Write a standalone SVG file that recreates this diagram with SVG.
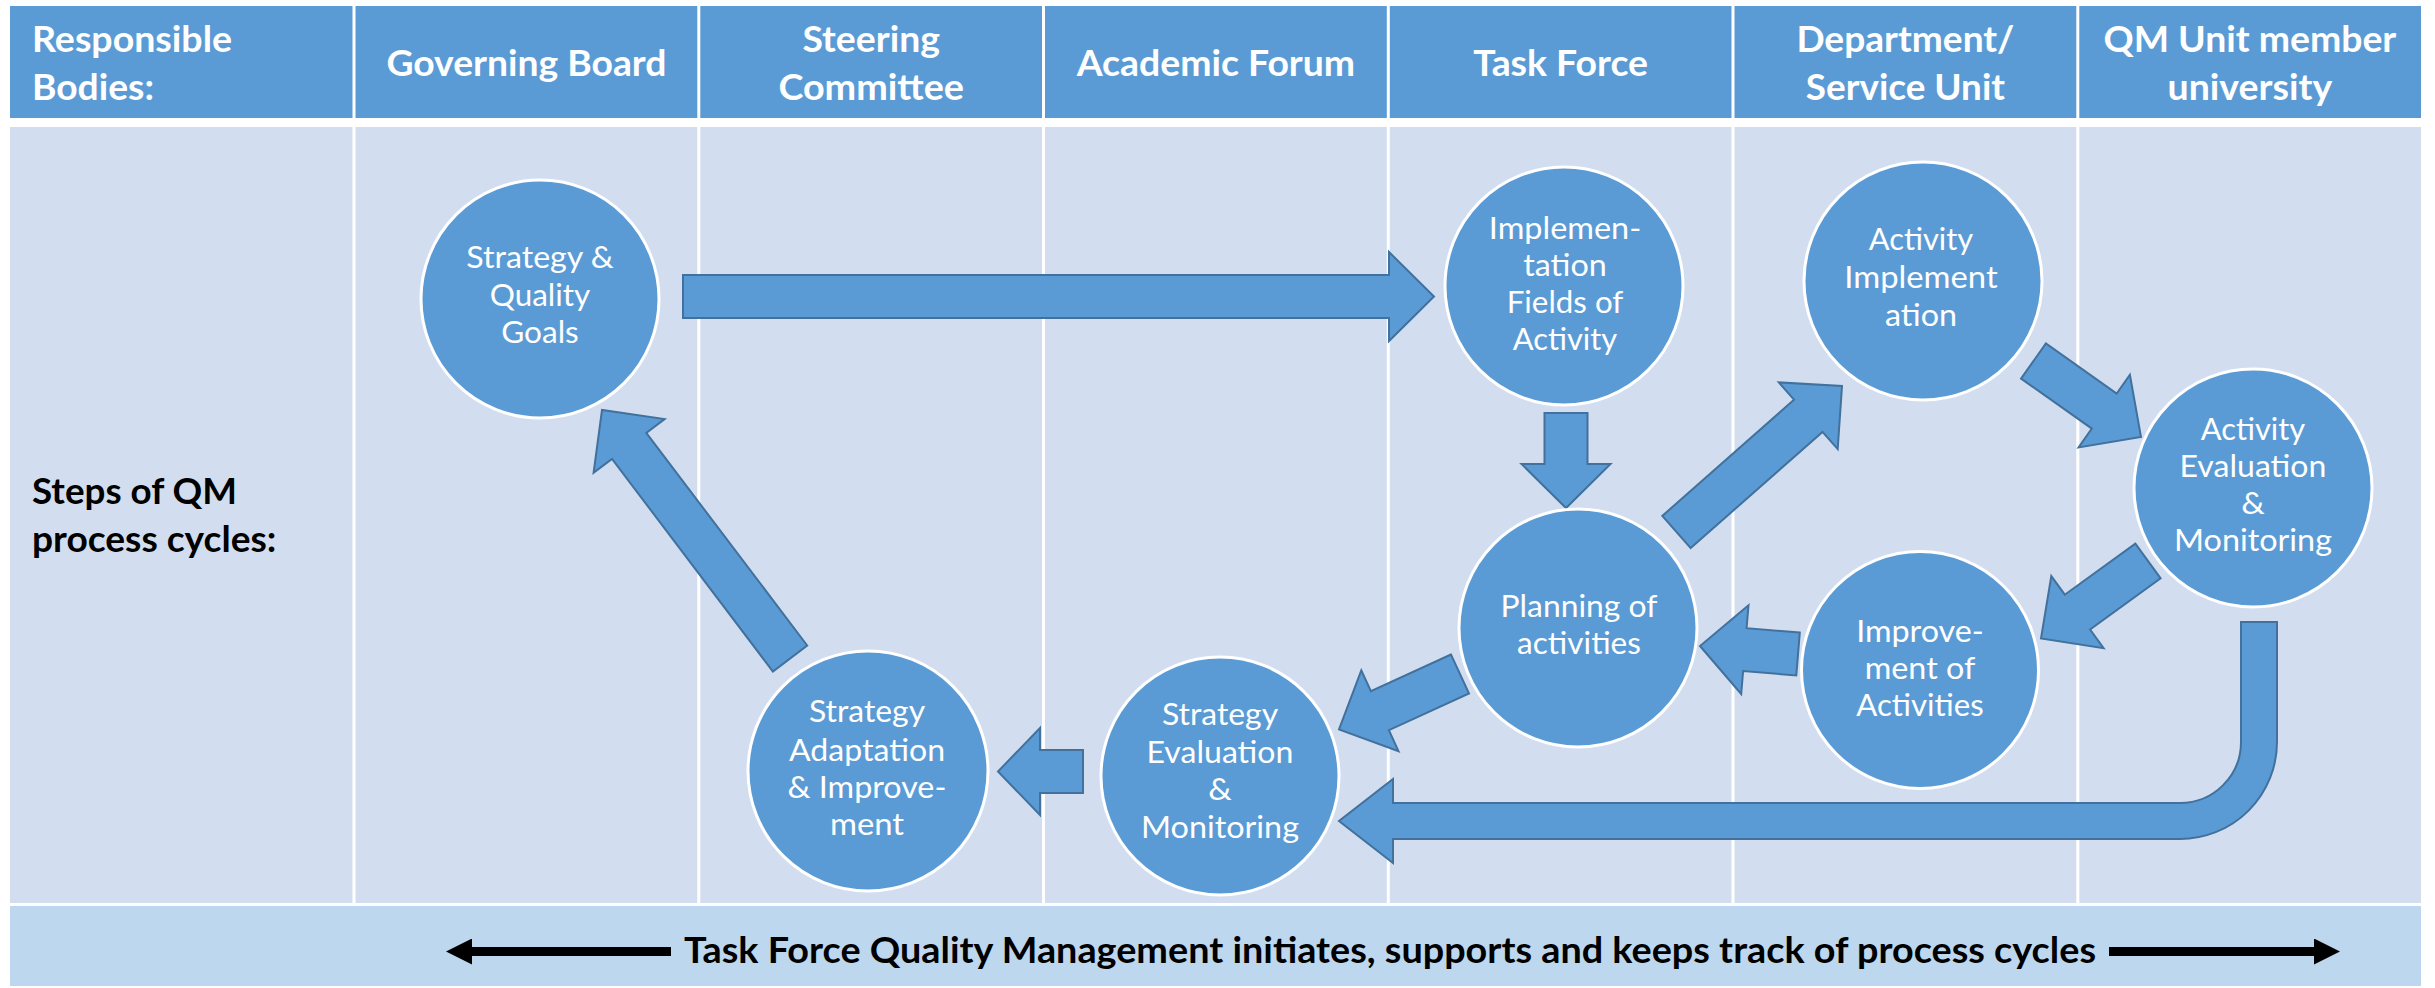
<svg xmlns="http://www.w3.org/2000/svg" width="2435" height="988" viewBox="0 0 2435 988">
<defs>
<style>
.hdr{fill:#5B9BD5}
.body{fill:#D2DEEF}
.foot{fill:#BDD7EE}
.sep{stroke:#FFFFFF;stroke-width:3}
.ht{font-family:Lato,"Liberation Sans",sans-serif;font-weight:bold;font-size:36px;fill:#FFFFFF}
.htm{text-anchor:middle}
.rl{font-family:Lato,"Liberation Sans",sans-serif;font-weight:bold;font-size:36px;fill:#000000}
.node{fill:#5B9BD5;stroke:#FFFFFF;stroke-width:3}
.nt{font-family:Lato,"Liberation Sans",sans-serif;font-size:31px;fill:#FFFFFF;text-anchor:middle}
.blk{fill:#5B9BD5;stroke:#41719C;stroke-width:2;stroke-linejoin:miter}
.ft{font-family:Lato,"Liberation Sans",sans-serif;font-weight:bold;font-size:36px;fill:#000000;text-anchor:middle}
.fa{stroke:#000000;stroke-width:9;fill:none}
</style>
<marker id="ah" viewBox="0 0 26 26" refX="0" refY="13" markerWidth="26" markerHeight="26" markerUnits="userSpaceOnUse" orient="auto">
<path d="M0,0 L26,13 L0,26 Z" fill="#000000"/>
</marker>
</defs>
<rect x="0" y="0" width="2435" height="988" fill="#FFFFFF"/>
<g id="table">
<rect class="hdr" x="10" y="6" width="2411" height="112"/>
<rect class="body" x="10" y="127" width="2411" height="776"/>
<rect class="foot" x="10" y="906" width="2411" height="80"/>
<g class="sep">
<line x1="354" y1="4" x2="354" y2="904"/>
<line x1="698.8" y1="4" x2="698.8" y2="904"/>
<line x1="1043.5" y1="4" x2="1043.5" y2="904"/>
<line x1="1388.3" y1="4" x2="1388.3" y2="904"/>
<line x1="1733" y1="4" x2="1733" y2="904"/>
<line x1="2077.8" y1="4" x2="2077.8" y2="904"/>
</g>
</g>
<g id="header-labels">
<g id="h-responsible">
<text class="ht" x="32" y="52" textLength="200" lengthAdjust="spacingAndGlyphs">Responsible</text>
<text class="ht" x="32" y="100" textLength="122" lengthAdjust="spacingAndGlyphs">Bodies:</text>
</g>
<g id="h-governing"><text class="ht htm" x="526.4" y="76" textLength="280" lengthAdjust="spacingAndGlyphs">Governing Board</text></g>
<g id="h-steering">
<text class="ht htm" x="871.2" y="52" textLength="137.5" lengthAdjust="spacingAndGlyphs">Steering</text>
<text class="ht htm" x="871.2" y="100" textLength="185.6" lengthAdjust="spacingAndGlyphs">Committee</text>
</g>
<g id="h-academic"><text class="ht htm" x="1215.9" y="76" textLength="278.5" lengthAdjust="spacingAndGlyphs">Academic Forum</text></g>
<g id="h-taskforce"><text class="ht htm" x="1560.7" y="76" textLength="174.7" lengthAdjust="spacingAndGlyphs">Task Force</text></g>
<g id="h-department">
<text class="ht htm" x="1905.4" y="52" textLength="218" lengthAdjust="spacingAndGlyphs">Department/</text>
<text class="ht htm" x="1905.4" y="100" textLength="199.2" lengthAdjust="spacingAndGlyphs">Service Unit</text>
</g>
<g id="h-qmunit">
<text class="ht htm" x="2249.9" y="52" textLength="292.8" lengthAdjust="spacingAndGlyphs">QM Unit member</text>
<text class="ht htm" x="2249.9" y="100" textLength="164.7" lengthAdjust="spacingAndGlyphs">university</text>
</g>
<g id="row-label">
<text class="rl" x="32" y="504" textLength="205" lengthAdjust="spacingAndGlyphs">Steps of QM</text>
<text class="rl" x="32" y="552" textLength="244.4" lengthAdjust="spacingAndGlyphs">process cycles:</text>
</g>
</g>
<g id="connectors">
<polygon id="c-goals-impl" class="blk" points="683,275 1389,275 1389,252 1434,296.5 1389,341 1389,318 683,318"/>
<polygon id="c-adapt-goals" class="blk" points="807.2,645.5 646.3,432.9 664.6,419.1 602,410 593.6,472.8 612,458.9 772.9,671.5"/>
<polygon id="c-impl-plan" class="blk" points="1544.5,413 1587.5,413 1587.5,464 1610.5,464 1566,508 1521.5,464 1544.5,464"/>
<polygon id="c-plan-actimpl" class="blk" points="1690.7,548.1 1822.5,431.9 1837.7,449.1 1842,386 1778.8,382.4 1794,399.7 1662.3,515.9"/>
<polygon id="c-actimpl-acteval" class="blk" points="2021.1,378.6 2091.8,428.6 2078.6,447.4 2141,437 2129.9,374.7 2116.7,393.5 2045.9,343.4"/>
<polygon id="c-acteval-improve" class="blk" points="2135.4,543.6 2064.8,594.7 2051.3,576.1 2041,638.5 2103.6,648.2 2090.1,629.5 2160.6,578.4"/>
<polygon id="c-improve-plan" class="blk" points="1799.8,632.6 1746.6,628.2 1748.5,605.3 1700,646 1741.2,694 1743.1,671.1 1796.3,675.4"/>
<polygon id="c-plan-streval" class="blk" points="1451,654.5 1370.9,691.2 1361.3,670.3 1339,729.5 1398.5,751.2 1388.9,730.2 1469,693.5"/>
<polygon id="c-streval-adapt" class="blk" points="1083,750 1040,750 1040,728 998,771.5 1040,815 1040,793 1083,793"/>
<path id="c-acteval-streval" class="blk" d="M2241,622 H2277 V742 A97,97 0 0 1 2180,839 H1393 V863 L1339,821 L1393,779 V803 H2180 A61,61 0 0 0 2241,742 Z"/>
</g>
<g id="node-goals">
<circle class="node" cx="540" cy="299" r="119"/>
<text class="nt" x="540" y="268" textLength="147.5" lengthAdjust="spacingAndGlyphs">Strategy &amp;</text>
<text class="nt" x="540" y="306" textLength="100.6" lengthAdjust="spacingAndGlyphs">Quality</text>
<text class="nt" x="540" y="343" textLength="77.6" lengthAdjust="spacingAndGlyphs">Goals</text>
</g>
<g id="node-implementation">
<circle class="node" cx="1564" cy="286" r="119"/>
<text class="nt" x="1565" y="239" textLength="152.4" lengthAdjust="spacingAndGlyphs">Implemen-</text>
<text class="nt" x="1565" y="276" textLength="83.6" lengthAdjust="spacingAndGlyphs">tation</text>
<text class="nt" x="1565" y="313" textLength="116.6" lengthAdjust="spacingAndGlyphs">Fields of</text>
<text class="nt" x="1565" y="350" textLength="104.4" lengthAdjust="spacingAndGlyphs">Activity</text>
</g>
<g id="node-activity-implementation">
<circle class="node" cx="1923" cy="281" r="119"/>
<text class="nt" x="1921" y="250" textLength="104.4" lengthAdjust="spacingAndGlyphs">Activity</text>
<text class="nt" x="1921" y="288" textLength="153.4" lengthAdjust="spacingAndGlyphs">Implement</text>
<text class="nt" x="1921" y="326" textLength="72.1" lengthAdjust="spacingAndGlyphs">ation</text>
</g>
<g id="node-activity-evaluation">
<circle class="node" cx="2253" cy="488" r="119"/>
<text class="nt" x="2253" y="440" textLength="104.4" lengthAdjust="spacingAndGlyphs">Activity</text>
<text class="nt" x="2253" y="477" textLength="146.8" lengthAdjust="spacingAndGlyphs">Evaluation</text>
<text class="nt" x="2253" y="514" textLength="23.5" lengthAdjust="spacingAndGlyphs">&amp;</text>
<text class="nt" x="2253" y="551" textLength="158" lengthAdjust="spacingAndGlyphs">Monitoring</text>
</g>
<g id="node-improvement">
<circle class="node" cx="1920" cy="670" r="118.5"/>
<text class="nt" x="1920" y="642" textLength="127.6" lengthAdjust="spacingAndGlyphs">Improve-</text>
<text class="nt" x="1920" y="679" textLength="110.6" lengthAdjust="spacingAndGlyphs">ment of</text>
<text class="nt" x="1920" y="716" textLength="127.3" lengthAdjust="spacingAndGlyphs">Activities</text>
</g>
<g id="node-planning">
<circle class="node" cx="1578" cy="628" r="119"/>
<text class="nt" x="1579" y="617" textLength="156.8" lengthAdjust="spacingAndGlyphs">Planning of</text>
<text class="nt" x="1579" y="654" textLength="123.8" lengthAdjust="spacingAndGlyphs">activities</text>
</g>
<g id="node-strategy-evaluation">
<circle class="node" cx="1220" cy="776" r="119"/>
<text class="nt" x="1220" y="725" textLength="116.2" lengthAdjust="spacingAndGlyphs">Strategy</text>
<text class="nt" x="1220" y="763" textLength="146.8" lengthAdjust="spacingAndGlyphs">Evaluation</text>
<text class="nt" x="1220" y="800" textLength="23.5" lengthAdjust="spacingAndGlyphs">&amp;</text>
<text class="nt" x="1220" y="838" textLength="158" lengthAdjust="spacingAndGlyphs">Monitoring</text>
</g>
<g id="node-strategy-adaptation">
<circle class="node" cx="868" cy="771" r="120"/>
<text class="nt" x="867" y="722" textLength="116.2" lengthAdjust="spacingAndGlyphs">Strategy</text>
<text class="nt" x="867" y="761" textLength="156.1" lengthAdjust="spacingAndGlyphs">Adaptation</text>
<text class="nt" x="867" y="798" textLength="158.8" lengthAdjust="spacingAndGlyphs">&amp; Improve-</text>
<text class="nt" x="867" y="835" textLength="74.2" lengthAdjust="spacingAndGlyphs">ment</text>
</g>
<g id="footer">
<line class="fa" x1="671" y1="951.5" x2="472" y2="951.5" marker-end="url(#ah)"/>
<line class="fa" x1="2109" y1="951.5" x2="2314" y2="951.5" marker-end="url(#ah)"/>
<text class="ft" x="1390" y="963" textLength="1412" lengthAdjust="spacingAndGlyphs">Task Force Quality Management initiates, supports and keeps track of process cycles</text>
</g>
</svg>
